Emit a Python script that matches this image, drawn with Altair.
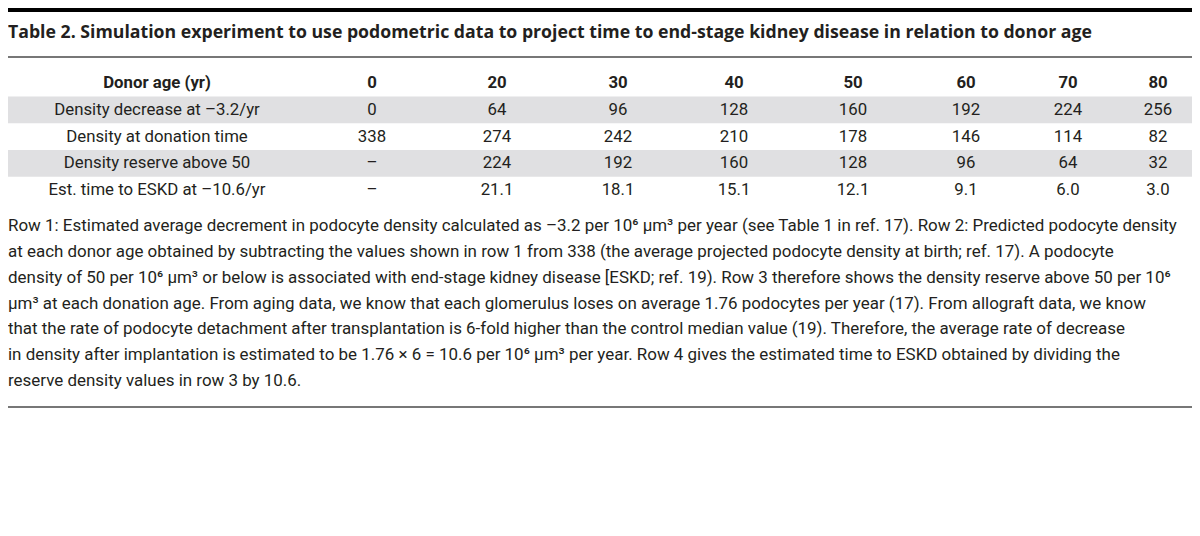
import altair as alt
import pandas as pd

# ---------------- data ----------------
title_text = ("Table 2. Simulation experiment to use podometric data to project time "
              "to end-stage kidney disease in relation to donor age")
header_label = "Donor age (yr)"
donor_ages = ["0", "20", "30", "40", "50", "60", "70", "80"]
row_labels = [
    "Density decrease at \u20133.2/yr",
    "Density at donation time",
    "Density reserve above 50",
    "Est. time to ESKD at \u201310.6/yr",
]
density_decrease = [0, 64, 96, 128, 160, 192, 224, 256]
density_at_donation = [338, 274, 242, 210, 178, 146, 114, 82]
density_reserve = [None, 224, 192, 160, 128, 96, 64, 32]
est_time_to_eskd = [None, 21.1, 18.1, 15.1, 12.1, 9.1, 6.0, 3.0]
shaded_rows = [1, 3]

footnote_lines = [
    "Row 1: Estimated average decrement in podocyte density calculated as \u20133.2 per 10\u2076 \u03bcm\u00b3 per year (see Table 1 in ref. 17). Row 2: Predicted podocyte density",
    "at each donor age obtained by subtracting the values shown in row 1 from 338 (the average projected podocyte density at birth; ref. 17). A podocyte",
    "density of 50 per 10\u2076 \u03bcm\u00b3 or below is associated with end-stage kidney disease [ESKD; ref. 19). Row 3 therefore shows the density reserve above 50 per 10\u2076",
    "\u03bcm\u00b3 at each donation age. From aging data, we know that each glomerulus loses on average 1.76 podocytes per year (17). From allograft data, we know",
    "that the rate of podocyte detachment after transplantation is 6-fold higher than the control median value (19). Therefore, the average rate of decrease",
    "in density after implantation is estimated to be 1.76 \u00d7 6 = 10.6 per 10\u2076 \u03bcm\u00b3 per year. Row 4 gives the estimated time to ESKD obtained by dividing the",
    "reserve density values in row 3 by 10.6.",
]

# ---------------- layout ----------------
W, H = 1184, 520
FONT = "Roboto"
CELL_SIZE = 16.8
FOOT_SIZE = 16.95
TEXT_COLOR = "#231f20"
BAND_COLOR = "#e0e0e2"
RULE_COLOR = "#4a4a4a"
col_centers = [149, 364, 489, 610, 726, 845, 958, 1060, 1150]
row_range = [75, 182]
foot_range = [218, 373]


def fmt(v, decimals=0):
    if v is None:
        return "\u2013"
    return f"{v:.{decimals}f}" if decimals else str(v)


records = []
records.append({"row": 0, "col": 0, "text": header_label, "bold": True})
for j, a in enumerate(donor_ages):
    records.append({"row": 0, "col": j + 1, "text": a, "bold": True})
series = [
    [fmt(v) for v in density_decrease],
    [fmt(v) for v in density_at_donation],
    [fmt(v) for v in density_reserve],
    [fmt(v, 1) for v in est_time_to_eskd],
]
for i, (lab, vals) in enumerate(zip(row_labels, series)):
    records.append({"row": i + 1, "col": 0, "text": lab, "bold": False})
    for j, t in enumerate(vals):
        records.append({"row": i + 1, "col": j + 1, "text": t, "bold": False})
cells = pd.DataFrame(records)

xscale = alt.Scale(domain=list(range(len(col_centers))), range=col_centers)
yscale = alt.Scale(domain=[0, 4], range=row_range)
fscale = alt.Scale(domain=[0, len(footnote_lines) - 1], range=foot_range)

bands = (
    alt.Chart(pd.DataFrame({"row": shaded_rows}))
    .transform_calculate(y0="datum.row - 0.5", y1="datum.row + 0.5")
    .mark_rect(color=BAND_COLOR)
    .encode(
        x=alt.value(0),
        x2=alt.value(W),
        y=alt.Y("y0:Q", scale=yscale, axis=None),
        y2="y1:Q",
    )
)

body_cells = (
    alt.Chart(cells)
    .transform_filter("!datum.bold")
    .mark_text(font=FONT, fontSize=CELL_SIZE, color=TEXT_COLOR, baseline="middle", align="center")
    .encode(
        x=alt.X("col:Q", scale=xscale, axis=None),
        y=alt.Y("row:Q", scale=yscale, axis=None),
        text="text:N",
    )
)

head_cells = (
    alt.Chart(cells)
    .transform_filter("datum.bold")
    .mark_text(font=FONT, fontSize=CELL_SIZE, fontWeight="bold", color=TEXT_COLOR,
               baseline="middle", align="center")
    .encode(
        x=alt.X("col:Q", scale=xscale, axis=None),
        y=alt.Y("row:Q", scale=yscale, axis=None),
        text="text:N",
    )
)

foot = (
    alt.Chart(pd.DataFrame({"line": list(range(len(footnote_lines))), "text": footnote_lines}))
    .mark_text(font=FONT, fontSize=FOOT_SIZE, color=TEXT_COLOR, baseline="middle", align="left")
    .encode(
        x=alt.value(0),
        y=alt.Y("line:Q", scale=fscale, axis=None),
        text="text:N",
    )
)

title = (
    alt.Chart(pd.DataFrame({"t": [title_text]}))
    .mark_text(font="Open Sans", fontSize=17.7, fontWeight="bold", color=TEXT_COLOR,
               baseline="middle", align="left")
    .encode(x=alt.value(0), y=alt.value(25), text="t:N")
)

top_bar = alt.Chart(pd.DataFrame({"a": [0]})).mark_rect(color="#000000").encode(
    x=alt.value(0), x2=alt.value(W), y=alt.value(0), y2=alt.value(4)
)
rule_top = alt.Chart(pd.DataFrame({"a": [0]})).mark_rule(color=RULE_COLOR, strokeWidth=1.6).encode(
    x=alt.value(0), x2=alt.value(W), y=alt.value(49)
)
rule_bottom = alt.Chart(pd.DataFrame({"a": [0]})).mark_rule(color=RULE_COLOR, strokeWidth=1.6).encode(
    x=alt.value(0), x2=alt.value(W), y=alt.value(399)
)

chart = (
    alt.layer(bands, body_cells, head_cells, foot, title, top_bar, rule_top, rule_bottom)
    .resolve_scale(x="independent", y="independent")
    .properties(width=W, height=H, padding=0, autosize=alt.AutoSizeParams(type="none"))
    .configure_view(stroke=None)
)

chart.save("out.html", embed_options={"renderer": "svg", "actions": False})
